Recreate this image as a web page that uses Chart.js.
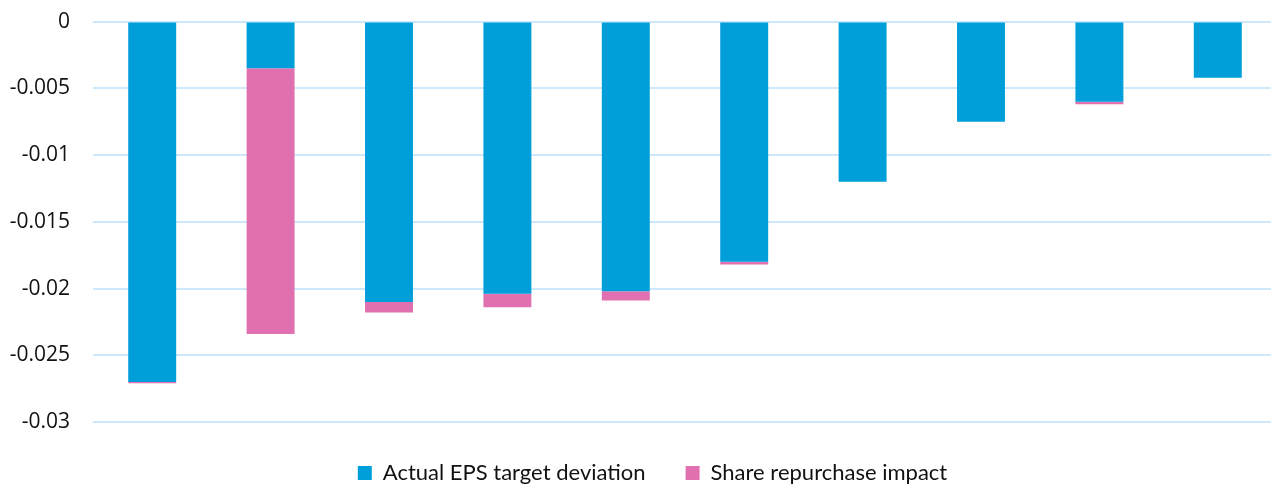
<!DOCTYPE html>
<html lang="en">
<head>
    <meta charset="UTF-8">
    <title>EPS deviation</title>
    <style>
        html, body { margin: 0; padding: 0; background: #fff; overflow: hidden; }
        .chart-container { width: 1305px; height: 498px; margin-top: -14px; position: relative; }
    </style>
</head>
<body>
    <div class="chart-container">
        <canvas id="epsChart"></canvas>
    </div>
    <script src="https://cdn.jsdelivr.net/npm/chart.js"></script>
    <script>
        // dados
        const categorias = ['1', '2', '3', '4', '5', '6', '7', '8', '9', '10'];
        const desvioEPS = [-0.0270, -0.0035, -0.0210, -0.0204, -0.0202, -0.0180, -0.0120, -0.0075, -0.0060, -0.0042];
        const impactoRecompra = [-0.0001, -0.0199, -0.0008, -0.0010, -0.0007, -0.0002, 0, 0, -0.0002, 0];
        const ticksY = [0, -0.005, -0.01, -0.015, -0.02, -0.025, -0.03];

        var ctx = document.getElementById('epsChart').getContext('2d');
        var epsChart = new Chart(ctx, {
            type: 'bar',
            data: {
                labels: categorias,
                datasets: [{
                    label: 'Actual EPS target deviation',
                    data: desvioEPS,
                    backgroundColor: '#009fda'
                }, {
                    label: 'Share repurchase impact',
                    data: impactoRecompra,
                    backgroundColor: '#e170b0'
                }]
            },
            options: {
                responsive: true,
                maintainAspectRatio: false,
                animation: false,
                layout: { padding: { top: 0, right: 0, left: 0, bottom: -10 } },
                datasets: {
                    bar: { categoryPercentage: 1, barPercentage: 0.405 }
                },
                plugins: {
                    tooltip: { enabled: false },
                    legend: {
                        position: 'bottom',
                        labels: {
                            boxWidth: 14,
                            boxHeight: 14,
                            padding: 40,
                            color: '#111',
                            font: { family: 'Lato', size: 22 }
                        }
                    }
                },
                scales: {
                    x: {
                        stacked: true,
                        grid: { display: false, drawTicks: false },
                        border: { display: false },
                        ticks: { display: false }
                    },
                    y: {
                        stacked: true,
                        min: -0.03,
                        max: 0,
                        afterBuildTicks: function(axis) {
                            axis.ticks = ticksY.map(v => ({ value: v }));
                        },
                        afterFit: function(axis) { axis.width = 93; },
                        grid: { color: '#cde8fb', lineWidth: 2, drawTicks: false },
                        border: { display: false },
                        ticks: {
                            padding: 23,
                            color: '#111',
                            font: { family: '"Open Sans"', size: 21 },
                            callback: v => String(Number(v.toFixed(4)))
                        }
                    },
                    // eixo vazio só para reservar espaço à direita
                    yDireita: {
                        position: 'right',
                        min: -0.03,
                        max: 0,
                        afterFit: function(axis) { axis.width = 28; },
                        grid: { display: false, drawTicks: false },
                        border: { display: false },
                        ticks: { display: false }
                    }
                }
            }
        });
    </script>
</body>
</html>
